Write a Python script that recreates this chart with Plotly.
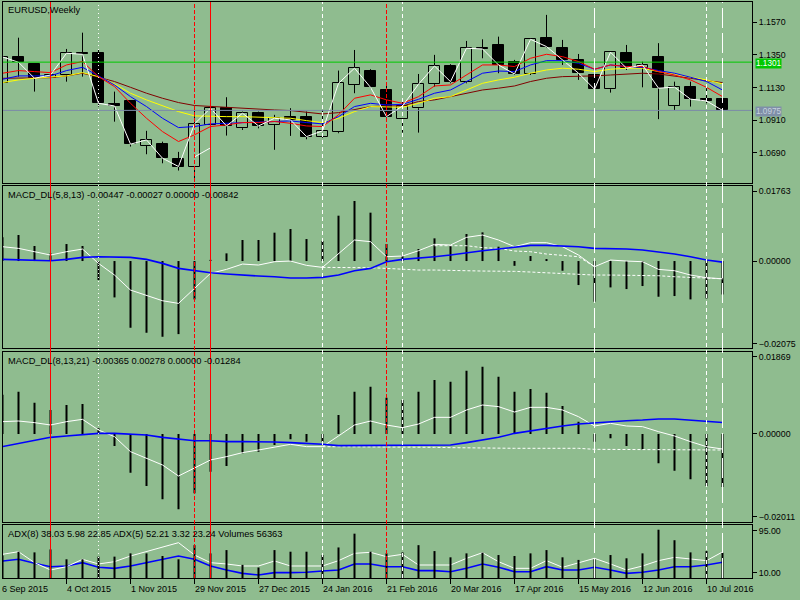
import pandas as pd
import plotly.graph_objects as go
from plotly.subplots import make_subplots

# weekly EURUSD, Sep 2015 - Jul 2016
weeks = pd.date_range("2015-09-06", periods=46, freq="7D")
week_labels = ["6 Sep 2015", "4 Oct 2015", "1 Nov 2015", "29 Nov 2015", "27 Dec 2015",
               "24 Jan 2016", "21 Feb 2016", "20 Mar 2016", "17 Apr 2016", "15 May 2016",
               "12 Jun 2016", "10 Jul 2016"]

open_ = [1.1161, 1.1338, 1.1289, 1.1194, 1.1215, 1.1361, 1.1361, 1.1017, 1.1039, 1.0735,
         1.0747, 1.0645, 1.0592, 1.0877, 1.0994, 1.0855, 1.0956, 1.0877, 1.0930, 1.0933,
         1.0794, 1.0828, 1.1147, 1.1241, 1.1113, 1.0916, 1.0990, 1.1152, 1.1275, 1.1165,
         1.1399, 1.1417, 1.1302, 1.1221, 1.1462, 1.1395, 1.1316, 1.1215, 1.1118, 1.1361,
         1.1260, 1.1334, 1.1006, 1.1132, 1.1053, 1.1053]
high = [1.1383, 1.1466, 1.1290, 1.1320, 1.1390, 1.1500, 1.1388, 1.1102, 1.1040, 1.0837,
        1.0764, 1.0695, 1.0985, 1.1046, 1.1064, 1.0967, 1.0967, 1.0945, 1.0990, 1.0967,
        1.0978, 1.1244, 1.1383, 1.1253, 1.1140, 1.1046, 1.1221, 1.1350, 1.1287, 1.1444,
        1.1455, 1.1473, 1.1316, 1.1462, 1.1620, 1.1451, 1.1356, 1.1220, 1.1372, 1.1417,
        1.1304, 1.1429, 1.1169, 1.1169, 1.1125, 1.1084]
low = [1.1113, 1.1203, 1.1102, 1.1136, 1.1169, 1.1203, 1.1001, 1.0899, 1.0731, 1.0679,
       1.0618, 1.0569, 1.0494, 1.0798, 1.0805, 1.0843, 1.0854, 1.0709, 1.0803, 1.0780,
       1.0789, 1.0821, 1.1091, 1.1125, 1.0926, 1.0825, 1.0825, 1.1136, 1.1158, 1.1158,
       1.1327, 1.1226, 1.1214, 1.1214, 1.1400, 1.1282, 1.1181, 1.1102, 1.1095, 1.1248,
       1.1131, 1.0916, 1.0978, 1.1001, 1.1023, 1.0956]
close = [1.1336, 1.1300, 1.1192, 1.1214, 1.1361, 1.1354, 1.1023, 1.1005, 1.0747, 1.0776,
         1.0652, 1.0596, 1.0884, 1.0990, 1.0870, 1.0956, 1.0870, 1.0922, 1.0911, 1.0798,
         1.0837, 1.1158, 1.1260, 1.1131, 1.0933, 1.1005, 1.1152, 1.1275, 1.1169, 1.1395,
         1.1390, 1.1282, 1.1221, 1.1455, 1.1406, 1.1316, 1.1226, 1.1118, 1.1368, 1.1260,
         1.1282, 1.1125, 1.1132, 1.1051, 1.1039, 1.0975]

ma_red = [1.1226, 1.1244, 1.1237, 1.1230, 1.1282, 1.1305, 1.1203, 1.1136, 1.1023, 1.0922,
          1.0832, 1.0765, 1.0810, 1.0866, 1.0877, 1.0893, 1.0893, 1.0900, 1.0888, 1.0870,
          1.0866, 1.0945, 1.1057, 1.1080, 1.1046, 1.1023, 1.1068, 1.1140, 1.1147, 1.1214,
          1.1282, 1.1282, 1.1271, 1.1327, 1.1354, 1.1338, 1.1305, 1.1253, 1.1282, 1.1271,
          1.1271, 1.1237, 1.1214, 1.1181, 1.1131, 1.1068]
ma_blue = [1.1185, 1.1208, 1.1208, 1.1208, 1.1244, 1.1266, 1.1208, 1.1147, 1.1068, 1.1001,
           1.0922, 1.0859, 1.0866, 1.0884, 1.0888, 1.0893, 1.0893, 1.0900, 1.0904, 1.0893,
           1.0884, 1.0933, 1.1001, 1.1023, 1.1012, 1.1016, 1.1050, 1.1091, 1.1113, 1.1170,
           1.1226, 1.1241, 1.1237, 1.1282, 1.1311, 1.1311, 1.1293, 1.1253, 1.1282, 1.1271,
           1.1266, 1.1244, 1.1226, 1.1199, 1.1170, 1.1113]
ma_yellow = [1.1163, 1.1181, 1.1192, 1.1199, 1.1208, 1.1230, 1.1203, 1.1154, 1.1091, 1.1046,
             1.1005, 1.0967, 1.0938, 1.0933, 1.0933, 1.0933, 1.0929, 1.0922, 1.0922, 1.0906,
             1.0893, 1.0922, 1.0967, 1.1001, 1.1001, 1.0996, 1.1023, 1.1057, 1.1068, 1.1113,
             1.1158, 1.1181, 1.1199, 1.1226, 1.1248, 1.1260, 1.1253, 1.1237, 1.1253, 1.1260,
             1.1260, 1.1237, 1.1221, 1.1199, 1.1181, 1.1154]
ma_maroon = [1.1192, 1.1192, 1.1192, 1.1196, 1.1208, 1.1226, 1.1199, 1.1170, 1.1131, 1.1091,
             1.1057, 1.1028, 1.1008, 1.1001, 1.0996, 1.0989, 1.0983, 1.0978, 1.0974, 1.0960,
             1.0951, 1.0960, 1.0978, 1.1001, 1.1005, 1.1005, 1.1035, 1.1046, 1.1068, 1.1091,
             1.1113, 1.1125, 1.1140, 1.1170, 1.1192, 1.1203, 1.1203, 1.1208, 1.1214, 1.1221,
             1.1226, 1.1221, 1.1208, 1.1192, 1.1176, 1.1163]
# short white stroke near the Dec 2015 low
stray_seg = [None] * 12 + [1.0661, 1.0722] + [None] * 32

macd1_hist = [0.0060, 0.00655, 0.00378, 0.00193, 0.00428, 0.00378, -0.00479, -0.00916, -0.0168, -0.01806,
              -0.01907, -0.0184, -0.00966, 0.0003, 0.00193, 0.00529, 0.00529, 0.00714, 0.00806, 0.00554,
              0.00504, 0.01142, 0.01512, 0.01218, 0.00428, 0.00151, 0.00302, 0.00571, 0.00378, 0.0068,
              0.00722, 0.00361, -0.0012, 0.00126, 0.0005, -0.00244, -0.00605, -0.01025, -0.00664, -0.00706,
              -0.0063, -0.00899, -0.00882, -0.00966, -0.00941, -0.00842]
macd1_main = [0.00361, 0.00319, 0.00235, 0.00151, 0.00235, 0.00302, -0.00059, -0.00353, -0.00731, -0.00857,
              -0.01000, -0.01067, -0.00689, -0.00311, -0.00210, -0.00076, -0.00101, -0.00017, 0.0, -0.00109,
              -0.00160, 0.00176, 0.00529, 0.00487, 0.00109, 0.00126, 0.00260, 0.00420, 0.00403, 0.00596,
              0.00655, 0.00529, 0.00361, 0.00462, 0.00462, 0.00361, 0.00151, -0.00143, 0.00025, 0.0,
              -0.00017, -0.00210, -0.00244, -0.00353, -0.00420, -0.00447]
macd1_signal = [0.00042, 0.00025, 0.00008, 0.00008, 0.00042, 0.00092, 0.00109, 0.00109, 0.00092, 0.00042,
                -0.00059, -0.00185, -0.00244, -0.00294, -0.00328, -0.00361, -0.00378, -0.00395, -0.00428, -0.00428,
                -0.00412, -0.00353, -0.00244, -0.00185, -0.00017, 0.00042, 0.00067, 0.00109, 0.00151, 0.00210,
                0.00260, 0.00302, 0.00344, 0.00395, 0.00395, 0.00386, 0.00361, 0.00319, 0.00319, 0.00302,
                0.00277, 0.00235, 0.00176, 0.00109, 0.00025, -0.00027]
macd1_dash_hi = [None] * 27 + [0.00386, 0.00386, 0.00386, 0.00336, 0.00319, 0.00252, 0.00235, 0.00176,
                               0.00134, 0.00109, -0.00143] + [None] * 8
macd1_dash_lo = [None] * 20 + [-0.0016, -0.0016, -0.0016, -0.00168, -0.00185, -0.0021, -0.00227, -0.00227,
                               -0.00244, -0.00244, -0.00252, -0.00252, -0.0026, -0.00277, -0.00294, -0.00328,
                               -0.00336, -0.00353, -0.00353, -0.00353, -0.00361, -0.0037, -0.00395, -0.00412,
                               -0.0042, -0.00447]

macd2_hist = [0.0095, 0.01026, 0.0076, 0.00582, 0.00703, 0.00727, 0.00137, -0.00291, -0.00937, -0.0126,
              -0.01584, -0.01826, -0.01438, -0.00913, -0.00776, -0.00469, -0.00428, -0.00267, -0.00129, -0.00186,
              -0.00186, 0.00461, 0.01026, 0.01147, 0.00881, 0.00824, 0.01026, 0.01309, 0.01269, 0.01535,
              0.01632, 0.0139, 0.01026, 0.01091, 0.01002, 0.00679, 0.00299, -0.00186, -0.00105, -0.00291,
              -0.00372, -0.00711, -0.00889, -0.01099, -0.0126, -0.01284]
macd2_main = [0.00299, 0.00315, 0.00275, 0.00218, 0.00299, 0.00356, 0.00097, -0.00065, -0.00428, -0.0059,
              -0.00751, -0.01018, -0.00832, -0.0063, -0.00549, -0.00452, -0.00388, -0.00323, -0.0025, -0.00307,
              -0.00307, -0.00048, 0.00218, 0.00315, 0.00218, 0.00154, 0.00242, 0.00404, 0.00404, 0.00582,
              0.00703, 0.00663, 0.00533, 0.00646, 0.00646, 0.00582, 0.0042, 0.00194, 0.00259, 0.00194,
              0.00178, 0.00057, -0.00048, -0.00186, -0.00307, -0.00365]
macd2_signal = [-0.00307, -0.00226, -0.00145, -0.00081, -0.00048, -0.00024, 0.00016, 0.00016, 0.0, -0.00024,
                -0.00081, -0.00129, -0.00162, -0.00162, -0.00186, -0.00186, -0.00186, -0.00194, -0.0021, -0.00226,
                -0.0025, -0.00283, -0.00283, -0.00283, -0.00283, -0.00283, -0.00283, -0.00283, -0.00267, -0.0021,
                -0.00145, -0.00081, 0.00016, 0.00081, 0.00137, 0.00194, 0.00242, 0.00275, 0.00291, 0.00323,
                0.00339, 0.00364, 0.00364, 0.00339, 0.00315, 0.00278]
macd2_dash = [None] * 20 + [-0.00307, -0.00307, -0.00307, -0.00307, -0.00315, -0.00307, -0.00315, -0.00323,
                            -0.00331, -0.00339, -0.00347, -0.00347, -0.00347, -0.00347, -0.00347, -0.00347,
                            -0.00347, -0.00372, -0.00372, -0.00372, -0.00372, -0.00372, -0.00372, -0.0038,
                            -0.0038, -0.00388]

adx5 = [47.4, 52.8, 30.4, 15.4, 22.2, 37.2, 27.7, 32.4, 44.0, 52.8,
        61.7, 71.2, 46.0, 30.4, 27.7, 23.6, 23.6, 33.8, 23.6, 23.6,
        23.6, 34.5, 49.4, 51.5, 42.6, 47.4, 25.6, 25.6, 25.6, 39.2,
        50.8, 32.4, 18.8, 18.8, 34.5, 20.9, 30.4, 39.2, 27.7, 15.4,
        23.6, 34.5, 41.3, 37.9, 34.5, 52.21]
adx8 = [33.8, 37.2, 29.0, 22.2, 23.6, 30.4, 20.9, 18.8, 23.6, 30.4,
        35.8, 44.0, 37.2, 23.6, 15.4, 8.6, 5.2, 10.0, 10.0, 10.7,
        13.4, 15.4, 27.7, 27.7, 22.2, 22.2, 14.1, 14.1, 12.0, 18.8,
        27.7, 20.9, 12.0, 12.0, 22.2, 15.4, 15.4, 20.9, 15.4, 8.6,
        10.7, 15.4, 22.2, 22.2, 25.6, 31.1]
volumes = [50000, 58560, 57100, 63700, 41700, 41700, 47600, 47600, 54900, 54900,
           49000, 41700, 73200, 54900, 62200, 29300, 23400, 62200, 58600, 58600,
           51200, 68100, 98800, 58600, 54900, 57100, 73200, 60000, 46100, 54900,
           56400, 51200, 49000, 54900, 62200, 46100, 40300, 41700, 51200, 43900,
           54900, 107600, 84200, 57100, 60000, 56363]

BG = "#8FBC8F"
FONT = "Liberation Sans"
DAY_MS = 86400000


def stems(xs, a, b):
    sx, sy = [], []
    for x, y0, y1 in zip(xs, a, b):
        if y0 is None or y1 is None:
            continue
        sx += [x, x, None]
        sy += [y0, y1, None]
    return sx, sy


def line(y, color, width=1, dash="solid"):
    return go.Scatter(x=weeks, y=y, mode="lines", line=dict(color=color, width=width, dash=dash),
                      hoverinfo="skip", connectgaps=False)


fig = make_subplots(rows=4, cols=1, shared_xaxes=True, vertical_spacing=0.0)

# --- price pane ---
body_top = [max(o, c) for o, c in zip(open_, close)]
body_bot = [min(o, c) for o, c in zip(open_, close)]
wx, wy = stems(list(weeks) * 2, high + body_bot, body_top + low)
fig.add_trace(go.Scatter(x=wx, y=wy, mode="lines", line=dict(color="black", width=1), hoverinfo="skip"), row=1, col=1)
fig.add_trace(go.Bar(x=weeks, base=body_bot, y=[t - b for t, b in zip(body_top, body_bot)],
                     width=4.4 * DAY_MS,
                     marker=dict(color=["black" if c < o else "rgba(0,0,0,0)" for o, c in zip(open_, close)],
                                 line=dict(color="black", width=1))), row=1, col=1)
for series, color in [(ma_maroon, "#800000"), (ma_yellow, "#FFFF00"), (ma_blue, "#0000FF"), (ma_red, "#FF0000")]:
    fig.add_trace(line(series, color, 1), row=1, col=1)
fig.add_trace(line(close, "white", 1), row=1, col=1)
fig.add_trace(line(stray_seg, "white", 1), row=1, col=1)

# --- MACD panes ---
for row, hist, main, sig, extra in [
    (2, macd1_hist, macd1_main, macd1_signal, [macd1_dash_hi, macd1_dash_lo]),
    (3, macd2_hist, macd2_main, macd2_signal, [macd2_dash]),
]:
    hx, hy = stems(weeks, [0.0] * len(hist), hist)
    fig.add_trace(go.Scatter(x=hx, y=hy, mode="lines", line=dict(color="black", width=2), hoverinfo="skip"),
                  row=row, col=1)
    for d in extra:
        fig.add_trace(line(d, "white", 1, "3px,2px"), row=row, col=1)
    fig.add_trace(line(main, "white", 1), row=row, col=1)
    fig.add_trace(line(sig, "#0000FF", 1.6), row=row, col=1)

# --- ADX + volumes ---
vx, vy = stems(weeks, [0] * len(volumes), volumes)
fig.add_trace(go.Scatter(x=vx, y=vy, mode="lines", line=dict(color="black", width=2), hoverinfo="skip",
                         xaxis="x4", yaxis="y5"))
fig.add_trace(line(adx8, "#0000FF", 1.6), row=4, col=1)
fig.add_trace(line(adx5, "white", 1), row=4, col=1)

# 16 px per week, bars centred on half pixels so 1px lines stay crisp
x_range = ["2015-09-06 05:15", "2016-07-29 21:45"]
axis_common = dict(showgrid=False, zeroline=False, showline=True, mirror=True, linecolor="black",
                   linewidth=1)
for i in range(1, 5):
    fig.update_layout({f"xaxis{'' if i == 1 else i}": dict(range=x_range, showticklabels=False,
                                                          ticks="", **axis_common)})
fig.update_xaxes(ticks="outside", tickvals=weeks[4::4], ticklen=5, tickcolor="black", row=4, col=1)

ytick = dict(side="right", ticks="outside", ticklen=4, tickcolor="black",
             tickfont=dict(family=FONT, size=8.8, color="black"), **axis_common)
fig.update_layout(
    yaxis=dict(domain=[0.6853, 1.0], range=[1.0483, 1.1707],
               tickvals=[1.1570, 1.1350, 1.1130, 1.0910, 1.0690], tickformat=".4f", **ytick),
    yaxis2=dict(domain=[0.3993, 0.6806], range=[-0.0219, 0.0189],
                tickvals=[0.01763, 0.0, -0.02075], tickformat=".5f", **ytick),
    yaxis3=dict(domain=[0.0977, 0.3915], range=[-0.02127, 0.01976],
                tickvals=[0.01869, 0.0, -0.02011], tickformat=".5f", **ytick),
    yaxis4=dict(domain=[0.0, 0.0920], range=[-0.9, 107.2],
                tickvals=[95, 10], tickformat=".2f", **ytick),
    yaxis5=dict(overlaying="y4", anchor="x4", range=[0, 118100], visible=False),
)

shapes = [
    dict(type="line", xref="paper", x0=0, x1=1, yref="y", y0=1.1301, y1=1.1301,
         line=dict(color="#00C800", width=1)),
    dict(type="line", xref="paper", x0=0, x1=1, yref="y", y0=1.0975, y1=1.0975,
         line=dict(color="#7B8AA8", width=1)),
]
for k, color, dash in [(3, "#FF0000", "solid"), (13, "#FF0000", "solid"),
                       (12, "#FF0000", "4px,2px"), (24, "#FF0000", "4px,2px"),
                       (6, "white", "1px,3px"),
                       (20, "white", "4px,3px"), (25, "white", "4px,3px"), (44, "white", "4px,3px"),
                       (37, "white", "20px,5px"), (45, "white", "20px,5px")]:
    shapes.append(dict(type="line", xref="x", x0=weeks[k], x1=weeks[k], yref="paper", y0=0, y1=1,
                       line=dict(color=color, width=1, dash=dash)))

annotations = []
for yref, text, shift in [
    ("y domain", "EURUSD,Weekly", -1),
    ("y2 domain", "MACD_DL(5,8,13) -0.00447 -0.00027 0.00000 -0.00842", -2),
    ("y3 domain", "MACD_DL(8,13,21) -0.00365 0.00278 0.00000 -0.01284", -2),
    ("y4 domain", "ADX(8) 38.03 5.98 22.85 ADX(5) 52.21 3.32 23.24 Volumes 56363", -2),
]:
    annotations.append(dict(xref="paper", x=0, xanchor="left", xshift=3, yref=yref, y=1, yanchor="top",
                            yshift=shift, text=text, showarrow=False,
                            font=dict(family=FONT, size=9.3, color="black")))
label_font = dict(family=FONT, size=9, color="black")
# first week sits on the left frame, so its label is pinned to the pane edge
annotations.append(dict(xref="paper", x=0, xanchor="left", xshift=-3, yref="paper", y=0, yanchor="top",
                        yshift=-4, text=week_labels[0], showarrow=False, font=label_font))
for d, lab in zip(weeks[4::4], week_labels[1:]):
    annotations.append(dict(xref="x4", x=d, xanchor="left", xshift=-2, yref="paper", y=0, yanchor="top",
                            yshift=-4, text=lab, showarrow=False, font=label_font))
for price, bg, fg in [(1.1301, "#00C800", "white"), (1.0975, "#7F8FA8", "#C8D2DE")]:
    annotations.append(dict(xref="paper", x=1, xanchor="left", xshift=3, yref="y", y=price, yanchor="middle",
                            yshift=-1.5, text=f"{price:.4f}", showarrow=False, bgcolor=bg, borderpad=0,
                            font=dict(family=FONT, size=8.2, color=fg)))

fig.update_layout(
    width=800, height=600,
    margin=dict(l=3, r=48, t=2, b=22),
    paper_bgcolor=BG, plot_bgcolor=BG,
    showlegend=False, bargap=0,
    shapes=shapes, annotations=annotations,
    font=dict(family=FONT, size=9, color="black"),
)

# the terminal picture has no page border, so drop the browser's default body margin
fig.write_html("out.html", config={"displayModeBar": False},
               post_script="document.body.style.margin='0';document.body.style.background='#8FBC8F';")
